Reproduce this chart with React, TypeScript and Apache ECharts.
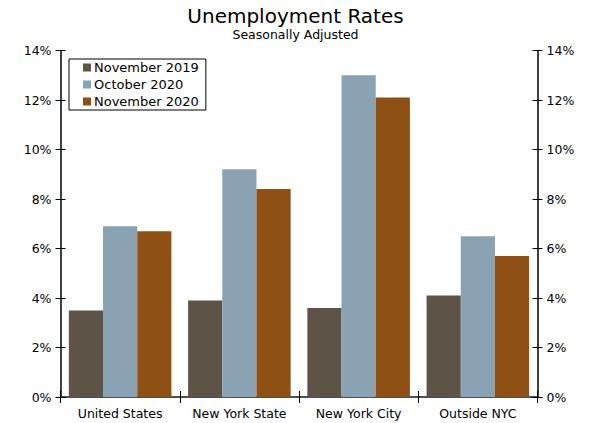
import React, { useEffect, useRef } from "react";
import * as echarts from "echarts";

const categories = ["United States", "New York State", "New York City", "Outside NYC"];
const seriesNames = ["November 2019", "October 2020", "November 2020"];
const nov2019 = [3.5, 3.9, 3.6, 4.1];
const oct2020 = [6.9, 9.2, 13.0, 6.5];
const nov2020 = [6.7, 8.4, 12.1, 5.7];
const colors = ["#5E5347", "#8AA3B2", "#8F5113"];

const FONT = "DejaVu Sans, Verdana, sans-serif";

export default function App() {
  const ref = useRef<HTMLDivElement>(null);
  useEffect(() => {
    const chart = echarts.init(ref.current!, null, { renderer: "svg" });
    const axisLine = { show: true, lineStyle: { color: "#000", width: 1.5 } };
    const tickStyle = { color: "#000", width: 1 };
    const yBase = {
      type: "value",
      min: 0,
      max: 14,
      interval: 2,
      splitLine: { show: false },
      axisLine,
    };
    chart.setOption({
      animation: false,
      textStyle: { fontFamily: FONT },
      title: {
        text: "Unemployment Rates",
        subtext: "Seasonally Adjusted",
        left: "center",
        top: 1,
        itemGap: 2,
        textStyle: { fontFamily: FONT, fontSize: 20, fontWeight: "normal", color: "#000" },
        subtextStyle: { fontFamily: FONT, fontSize: 12.5, color: "#000" },
      },
      legend: {
        orient: "vertical",
        left: 69,
        top: 59,
        data: seriesNames,
        icon: "rect",
        itemWidth: 8,
        itemHeight: 8,
        itemGap: 4,
        padding: [2, 7, 2, 14],
        borderColor: "#000",
        borderWidth: 1,
        textStyle: { fontFamily: FONT, fontSize: 13, color: "#000", padding: [0, 0, 0, -2] },
      },
      grid: { left: 60.5, right: 53.5, top: 50.5, bottom: 26, containLabel: false },
      xAxis: [
        {
          type: "category",
          data: categories,
          position: "bottom",
          axisLine,
          axisTick: { show: true, length: 6, interval: 0, lineStyle: tickStyle },
          axisLabel: { interval: 0, fontFamily: FONT, fontSize: 12.5, color: "#000", margin: 10 },
        },
        {
          type: "category",
          data: categories,
          position: "bottom",
          axisLine: { show: false },
          axisTick: { show: true, inside: true, interval: 0, length: 6, lineStyle: tickStyle },
          axisLabel: { show: false, interval: 0 },
        },
        {
          type: "category",
          data: categories,
          position: "top",
          axisLine: { show: true, lineStyle: { color: "#555", width: 1.5 } },
          axisTick: { show: false },
          axisLabel: { show: false },
        },
      ],
      yAxis: [
        {
          ...yBase,
          position: "left",
          axisTick: { show: true, length: 5, lineStyle: tickStyle },
          axisLabel: { formatter: "{value}%", fontFamily: FONT, fontSize: 12.5, color: "#000", margin: 9 },
        },
        {
          ...yBase,
          position: "left",
          axisLine: { show: false },
          axisTick: { show: true, inside: true, length: 5, lineStyle: tickStyle },
          axisLabel: { show: false },
        },
        {
          ...yBase,
          position: "right",
          axisTick: { show: true, length: 5, lineStyle: tickStyle },
          axisLabel: { formatter: "{value}%", fontFamily: FONT, fontSize: 12.5, color: "#000", margin: 9 },
        },
        {
          ...yBase,
          position: "right",
          axisLine: { show: false },
          axisTick: { show: true, inside: true, length: 5, lineStyle: tickStyle },
          axisLabel: { show: false },
        },
      ],
      series: [nov2019, oct2020, nov2020].map((d, i) => ({
        name: seriesNames[i],
        type: "bar",
        data: d,
        xAxisIndex: 0,
        yAxisIndex: 0,
        barGap: "0%",
        barCategoryGap: "14%",
        itemStyle: { color: colors[i] },
      })),
    });
    return () => chart.dispose();
  }, []);
  return <div ref={ref} style={{ width: 591, height: 423, position: "absolute", left: 0, top: 0 }} />;
}
